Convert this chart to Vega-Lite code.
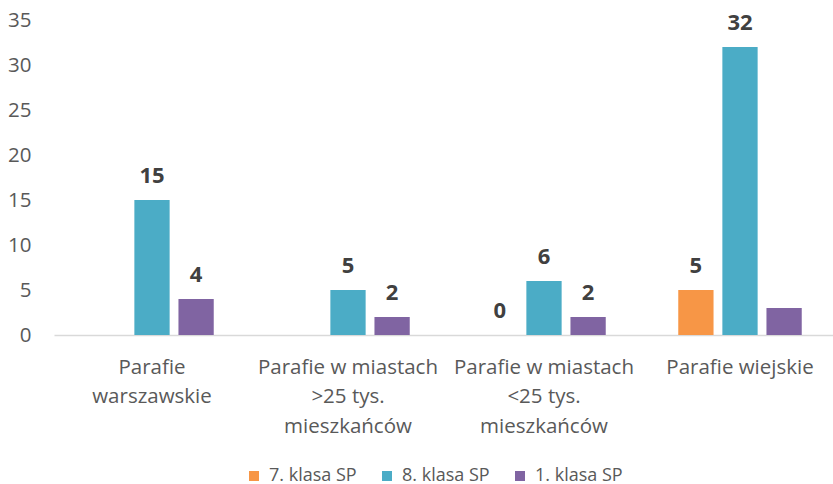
{
  "$schema": "https://vega.github.io/schema/vega-lite/v6.json",
  "autosize": "none",
  "width": 784,
  "height": 315,
  "padding": {"left": 54, "top": 20, "right": 0, "bottom": 149},
  "background": "white",
  "config": {"view": {"stroke": null}, "font": "Open Sans"},
  "data": {"values": [
    {"kategoria": "Parafie warszawskie", "klasa": "8. klasa SP", "liczba": 15},
    {"kategoria": "Parafie warszawskie", "klasa": "1. klasa SP", "liczba": 4},
    {"kategoria": "Parafie w miastach >25 tys. mieszkańców", "klasa": "8. klasa SP", "liczba": 5},
    {"kategoria": "Parafie w miastach >25 tys. mieszkańców", "klasa": "1. klasa SP", "liczba": 2},
    {"kategoria": "Parafie w miastach <25 tys. mieszkańców", "klasa": "7. klasa SP", "liczba": 0},
    {"kategoria": "Parafie w miastach <25 tys. mieszkańców", "klasa": "8. klasa SP", "liczba": 6},
    {"kategoria": "Parafie w miastach <25 tys. mieszkańców", "klasa": "1. klasa SP", "liczba": 2},
    {"kategoria": "Parafie wiejskie", "klasa": "7. klasa SP", "liczba": 5},
    {"kategoria": "Parafie wiejskie", "klasa": "8. klasa SP", "liczba": 32},
    {"kategoria": "Parafie wiejskie", "klasa": "1. klasa SP", "liczba": 3}
  ]},
  "encoding": {
    "x": {
      "field": "kategoria", "type": "nominal", "sort": null,
      "scale": {"paddingInner": 0.37, "paddingOuter": 0.185},
      "axis": {
        "title": null, "labelAngle": 0, "domainColor": "#D9D9D9", "domainWidth": 1.5, "ticks": false,
        "labelFontSize": 20.5, "labelColor": "#595959", "labelPadding": 22, "labelLineHeight": 29.5,
        "labelLimit": 400, "labelOverlap": false, "labelBound": false,
        "labelExpr": "datum.value == 'Parafie warszawskie' ? ['Parafie', 'warszawskie'] : datum.value == 'Parafie wiejskie' ? 'Parafie wiejskie' : datum.value == 'Parafie w miastach >25 tys. mieszkańców' ? ['Parafie w miastach', '>25 tys.', 'mieszkańców'] : ['Parafie w miastach', '<25 tys.', 'mieszkańców']"
      }
    },
    "xOffset": {"field": "klasa", "type": "nominal", "sort": ["7. klasa SP", "8. klasa SP", "1. klasa SP"], "scale": {"domain": ["7. klasa SP", "8. klasa SP", "1. klasa SP"], "paddingInner": 0.2, "paddingOuter": 0}},
    "y": {
      "field": "liczba", "type": "quantitative",
      "scale": {"domain": [0, 35]},
      "axis": {"title": null, "values": [0, 5, 10, 15, 20, 25, 30, 35], "grid": false, "domain": false, "ticks": false, "labelFontSize": 20.5, "labelColor": "#595959", "labelPadding": 23}
    }
  },
  "layer": [
    {
      "mark": {"type": "bar"},
      "encoding": {
        "color": {
          "field": "klasa", "type": "nominal",
          "scale": {"domain": ["7. klasa SP", "8. klasa SP", "1. klasa SP"], "range": ["#F79646", "#4BACC6", "#8064A2"]},
          "legend": {"title": null, "orient": "none", "direction": "horizontal", "legendX": 191, "legendY": 447, "symbolType": "square", "symbolSize": 100, "symbolStrokeWidth": 0, "labelFontSize": 18, "labelColor": "#595959", "columnPadding": 21, "labelOffset": 6}
        }
      }
    },
    {
      "transform": [{"filter": "!(datum.kategoria == 'Parafie wiejskie' && datum.klasa == '1. klasa SP')"}],
      "mark": {"type": "text", "dy": -24, "baseline": "middle", "fontWeight": "bold", "fontSize": 22, "color": "#404040"},
      "encoding": {"text": {"field": "liczba", "type": "quantitative"}}
    }
  ]
}
